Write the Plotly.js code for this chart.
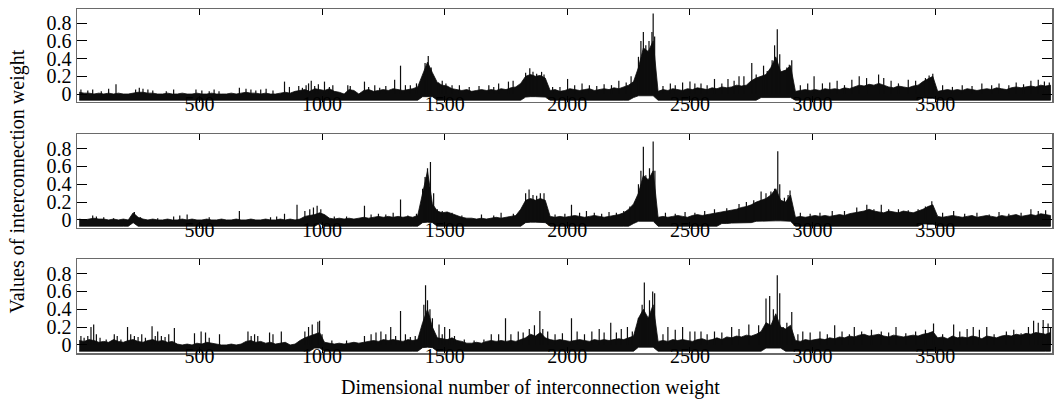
<!DOCTYPE html>
<html><head><meta charset="utf-8">
<script src="https://cdn.plot.ly/plotly-3.0.1.min.js"></script>
<style>html,body{margin:0;padding:0;background:#fff;}#chart{width:1055px;height:405px;}</style>
</head><body><div id="chart"></div>
<script>
// ---- data ----
const binWidth = 20; // each value covers 20 weight indices
const xTickValues = [500,1000,1500,2000,2500,3000,3500];
const yTickValues = [0,0.2,0.4,0.6,0.8];
const yTickLabels = ['0','0.2','0.4','0.6','0.8'];
const xTitle = 'Dimensional number of interconnection weight';
const yTitle = 'Values of interconnection weight';

// panel 1: upper edge of the dense trace per bin
const p1Top = [0.02,0.01,0.01,0.00,0.01,0.00,0.01,0.00,0.01,0.00,
0.00,0.01,0.02,0.02,0.01,0.01,0.00,0.00,0.01,0.00,
0.00,0.01,0.00,0.00,0.01,0.00,0.00,0.01,0.00,0.00,
0.00,0.01,0.00,0.01,0.02,0.01,0.01,0.00,0.01,0.00,
0.00,0.01,0.02,0.01,0.03,0.04,0.05,0.03,0.06,0.05,
0.04,0.06,0.03,0.02,0.00,0.05,0.04,0.00,0.04,0.05,
0.03,0.04,0.05,0.04,0.06,0.05,0.04,0.05,0.06,0.08,
0.22,0.36,0.24,0.13,0.10,0.09,0.06,0.05,0.04,0.05,
0.03,0.04,0.05,0.04,0.05,0.04,0.06,0.05,0.07,0.08,
0.12,0.20,0.22,0.20,0.21,0.18,0.04,0.05,0.03,0.04,
0.06,0.05,0.04,0.05,0.06,0.04,0.05,0.06,0.05,0.07,
0.06,0.08,0.10,0.14,0.30,0.52,0.48,0.60,0.03,0.05,
0.04,0.06,0.05,0.04,0.06,0.05,0.07,0.06,0.05,0.07,
0.06,0.08,0.07,0.08,0.10,0.09,0.10,0.15,0.18,0.20,
0.22,0.30,0.42,0.25,0.27,0.32,0.03,0.04,0.05,0.04,
0.05,0.04,0.06,0.05,0.06,0.05,0.07,0.06,0.08,0.10,
0.09,0.11,0.10,0.12,0.10,0.08,0.07,0.09,0.08,0.07,
0.09,0.10,0.14,0.17,0.20,0.03,0.04,0.05,0.04,0.05,
0.04,0.06,0.05,0.04,0.05,0.06,0.05,0.07,0.06,0.05,
0.07,0.08,0.07,0.08,0.09,0.08,0.10,0.09,0.10];
// panel 1: lower edge of the dense trace per bin
const p1Low = [-.07,-.07,-.07,-.07,-.07,-.07,-.07,-.07,-.07,-.07,
-.07,-.07,-.07,-.07,-.07,-.07,-.07,-.07,-.07,-.07,
-.07,-.07,-.07,-.07,-.07,-.07,-.07,-.07,-.07,-.07,
-.07,-.07,-.07,-.07,-.07,-.07,-.07,-.07,-.07,-.07,
-.07,-.07,-.07,-.07,-.07,-.07,-.07,-.07,-.07,-.07,
-.07,-.07,-.07,-.07,-.07,-.07,-.07,-.07,-.07,-.07,
-.07,-.07,-.07,-.07,-.07,-.07,-.07,-.07,-.07,-.07,
-.03,-.03,-.03,-.07,-.07,-.07,-.07,-.07,-.07,-.07,
-.07,-.07,-.07,-.07,-.07,-.07,-.07,-.07,-.07,-.07,
-.07,-.035,-.03,-.03,-.03,-.035,-.07,-.07,-.07,-.07,
-.07,-.07,-.07,-.07,-.07,-.07,-.07,-.07,-.07,-.07,
-.07,-.07,-.07,-.04,-.02,-.02,-.02,-.02,-.07,-.07,
-.07,-.07,-.07,-.07,-.07,-.07,-.07,-.07,-.07,-.07,
-.07,-.07,-.07,-.07,-.07,-.07,-.07,-.07,-.07,-.04,
-.04,-.04,-.04,-.04,-.04,-.04,-.07,-.07,-.07,-.07,
-.07,-.07,-.07,-.07,-.07,-.07,-.07,-.07,-.07,-.07,
-.07,-.07,-.07,-.07,-.07,-.07,-.07,-.07,-.07,-.07,
-.07,-.07,-.045,-.045,-.045,-.07,-.07,-.07,-.07,-.07,
-.07,-.07,-.07,-.07,-.07,-.07,-.07,-.07,-.07,-.07,
-.07,-.07,-.07,-.07,-.07,-.07,-.07,-.07,-.07];
// panel 1: isolated spikes (index, value)
const p1SpikeX = [17,45,65,100,130,160,240,255,270,290,310,365,395,486,510,540,560,580,663,690,710,730,750,772,800,847,867,905,920,935,945,956,970,985,1010,1030,1044,1105,1115,
1173,1190,1215,1235,1260,1296,1320,1340,1360,1385,1420,1433,1445,1475,1490,1505,1530,1560,1600,1640,1680,1700,1720,1760,1779,
1830,1847,1860,1875,1895,1905,1940,1970,2001,2030,2060,2090,2120,2150,2180,2210,2240,2260,
2290,2300,2310,2320,2333,2345,2350,2356,2390,2420,2440,2470,2500,2520,2545,2570,2600,2630,2655,2680,2700,2720,
2752,2770,2800,2815,2835,2845,2856,2866,2895,2905,2915,2950,2980,3006,3040,3070,3100,3130,3160,3190,3220,3269,3290,3320,3350,3390,3420,3460,3475,3490,
3530,3570,3610,3650,3690,3730,3760,3800,3830,3860,3890,3920,3945,3965];
const p1SpikeY = [0.05,0.04,0.05,0.03,0.06,0.11,0.05,0.07,0.06,0.05,0.04,0.03,0.05,0.05,0.04,0.03,0.05,0.03,0.07,0.06,0.05,0.04,0.05,0.06,0.04,0.14,0.08,0.09,0.07,0.10,0.12,0.15,0.09,0.11,0.14,0.08,0.10,0.10,0.09,
0.14,0.08,0.10,0.07,0.09,0.16,0.32,0.10,0.10,0.12,0.35,0.43,0.30,0.13,0.15,0.12,0.10,0.10,0.08,0.09,0.10,0.08,0.12,0.14,0.15,
0.24,0.29,0.25,0.23,0.25,0.22,0.08,0.08,0.17,0.10,0.12,0.10,0.09,0.11,0.10,0.15,0.13,0.20,
0.42,0.60,0.70,0.55,0.60,0.70,0.91,0.65,0.09,0.12,0.10,0.13,0.14,0.12,0.12,0.10,0.17,0.12,0.17,0.15,0.20,0.20,
0.35,0.22,0.32,0.26,0.38,0.55,0.73,0.45,0.30,0.33,0.38,0.10,0.12,0.20,0.12,0.13,0.15,0.10,0.16,0.20,0.18,0.22,0.18,0.15,0.12,0.16,0.15,0.18,0.21,0.23,
0.10,0.08,0.10,0.09,0.12,0.10,0.12,0.10,0.13,0.11,0.15,0.16,0.14,0.13];

// panel 2
const p2Top = [0.01,0.00,0.01,0.02,0.01,0.01,0.00,0.01,0.00,0.01,
0.00,0.08,0.03,0.01,0.00,0.01,0.00,0.00,0.01,0.00,
0.00,0.01,0.00,0.01,0.00,0.00,0.01,0.00,0.00,0.01,
0.00,0.00,0.01,0.00,0.00,0.01,0.00,0.00,0.01,0.00,
0.00,0.01,0.00,0.01,0.00,0.01,0.04,0.05,0.06,0.08,
0.06,0.02,0.01,0.02,0.01,0.02,0.01,0.02,0.03,0.02,
0.03,0.04,0.03,0.04,0.03,0.04,0.03,0.04,0.03,0.05,
0.30,0.55,0.18,0.10,0.08,0.09,0.07,0.05,0.03,0.02,
0.02,0.01,0.02,0.01,0.02,0.03,0.02,0.03,0.04,0.05,
0.12,0.22,0.24,0.22,0.24,0.22,0.04,0.03,0.04,0.03,
0.04,0.05,0.04,0.03,0.04,0.05,0.04,0.03,0.04,0.05,
0.06,0.08,0.12,0.18,0.30,0.50,0.45,0.55,0.03,0.04,
0.03,0.04,0.05,0.04,0.03,0.05,0.06,0.05,0.06,0.07,
0.08,0.09,0.10,0.11,0.12,0.14,0.15,0.17,0.20,0.22,
0.24,0.28,0.35,0.22,0.20,0.28,0.03,0.04,0.03,0.04,
0.05,0.04,0.05,0.04,0.05,0.06,0.05,0.07,0.08,0.09,
0.10,0.12,0.10,0.09,0.08,0.10,0.09,0.08,0.10,0.09,
0.08,0.10,0.12,0.15,0.17,0.04,0.03,0.04,0.05,0.04,
0.03,0.04,0.05,0.03,0.04,0.05,0.04,0.03,0.05,0.04,
0.05,0.06,0.04,0.05,0.06,0.05,0.07,0.06,0.05];
const p2Low = [-.07,-.07,-.07,-.07,-.07,-.07,-.07,-.07,-.07,-.07,
-.07,-.03,-.07,-.07,-.07,-.07,-.07,-.07,-.07,-.07,
-.07,-.07,-.07,-.07,-.07,-.07,-.07,-.07,-.07,-.07,
-.07,-.07,-.07,-.07,-.07,-.07,-.07,-.07,-.07,-.07,
-.07,-.07,-.07,-.07,-.07,-.07,-.07,-.07,-.07,-.04,
-.07,-.07,-.07,-.07,-.07,-.07,-.07,-.07,-.07,-.07,
-.07,-.07,-.07,-.07,-.07,-.07,-.07,-.07,-.07,-.07,
-.03,-.025,-.03,-.07,-.07,-.07,-.07,-.07,-.07,-.07,
-.07,-.07,-.07,-.07,-.07,-.07,-.07,-.07,-.07,-.07,
-.07,-.03,-.025,-.025,-.025,-.03,-.07,-.07,-.07,-.07,
-.07,-.07,-.07,-.07,-.07,-.07,-.07,-.07,-.07,-.07,
-.07,-.07,-.07,-.04,-.015,-.015,-.015,-.015,-.07,-.07,
-.07,-.07,-.07,-.07,-.07,-.07,-.07,-.07,-.07,-.07,
-.07,-.04,-.04,-.035,-.035,-.03,-.03,-.03,-.015,-.01,
-.01,-.01,-.01,-.01,-.01,-.015,-.07,-.07,-.07,-.07,
-.07,-.07,-.07,-.07,-.07,-.07,-.07,-.07,-.07,-.07,
-.07,-.07,-.07,-.07,-.07,-.07,-.07,-.07,-.07,-.07,
-.07,-.07,-.045,-.045,-.045,-.07,-.07,-.07,-.07,-.07,
-.07,-.07,-.07,-.07,-.07,-.07,-.07,-.07,-.07,-.07,
-.07,-.07,-.07,-.07,-.07,-.07,-.07,-.07,-.07];
const p2SpikeX = [65,80,110,150,235,260,330,395,420,450,540,663,790,815,847,898,930,950,965,980,995,1050,1100,1173,1200,1230,1260,1290,1320,1350,1385,
1410,1420,1430,1442,1455,1470,1490,1510,1530,1570,1650,1700,1730,1780,
1830,1844,1860,1875,1890,1905,1950,1990,2017,2050,2078,2110,2140,2170,2200,2230,2255,2275,2290,2300,2310,2320,2335,2350,2357,
2400,2440,2480,2520,2560,2600,2650,2700,2730,2760,2790,2810,2830,2845,2858,2866,2885,2900,2908,
2950,2990,3030,3080,3130,3180,3221,3250,3280,3310,3350,3390,3430,3460,3486,
3530,3575,3620,3670,3720,3760,3800,3850,3890,3920,3950];
const p2SpikeY = [0.05,0.04,0.03,0.02,0.09,0.03,0.02,0.04,0.05,0.06,0.03,0.10,0.03,0.04,0.07,0.17,0.10,0.12,0.14,0.16,0.12,0.04,0.04,0.16,0.06,0.07,0.06,0.08,0.23,0.05,0.07,
0.35,0.48,0.58,0.65,0.30,0.12,0.10,0.09,0.08,0.05,0.06,0.05,0.08,0.07,
0.30,0.34,0.28,0.27,0.30,0.30,0.06,0.07,0.17,0.08,0.10,0.08,0.07,0.09,0.08,0.10,0.15,0.20,0.40,0.55,0.82,0.50,0.58,0.88,0.55,
0.08,0.07,0.09,0.08,0.10,0.12,0.13,0.18,0.20,0.22,0.32,0.30,0.32,0.35,0.77,0.40,0.25,0.28,0.33,
0.08,0.07,0.08,0.10,0.10,0.14,0.17,0.12,0.17,0.12,0.12,0.11,0.12,0.15,0.21,
0.08,0.10,0.07,0.08,0.06,0.09,0.07,0.08,0.12,0.10,0.11];

// panel 3
const p3Top = [0.05,0.04,0.06,0.05,0.03,0.04,0.03,0.06,0.04,0.03,
0.05,0.06,0.04,0.03,0.05,0.06,0.04,0.05,0.03,0.04,
0.01,0.00,0.01,0.00,0.02,0.01,0.03,0.02,0.01,0.00,
0.00,0.01,0.00,0.01,0.04,0.05,0.03,0.04,0.02,0.03,
0.01,0.02,0.03,0.00,0.01,0.05,0.08,0.10,0.12,0.14,
0.03,0.02,0.01,0.02,0.01,0.02,0.03,0.02,0.03,0.04,
0.05,0.04,0.06,0.05,0.06,0.05,0.04,0.06,0.05,0.06,
0.25,0.40,0.20,0.08,0.07,0.06,0.08,0.05,0.04,0.02,
0.02,0.03,0.02,0.04,0.05,0.04,0.05,0.04,0.05,0.04,
0.06,0.08,0.12,0.10,0.14,0.08,0.06,0.05,0.06,0.05,
0.04,0.05,0.06,0.05,0.04,0.06,0.05,0.06,0.05,0.06,
0.07,0.06,0.08,0.10,0.30,0.40,0.30,0.45,0.04,0.05,
0.04,0.06,0.05,0.06,0.05,0.04,0.06,0.07,0.05,0.06,
0.08,0.06,0.09,0.08,0.10,0.09,0.11,0.10,0.12,0.15,
0.25,0.22,0.35,0.20,0.18,0.22,0.05,0.04,0.06,0.05,
0.06,0.07,0.06,0.08,0.07,0.09,0.08,0.10,0.09,0.11,
0.12,0.10,0.11,0.12,0.10,0.09,0.11,0.10,0.09,0.10,
0.11,0.10,0.12,0.13,0.15,0.08,0.09,0.07,0.10,0.08,
0.09,0.08,0.10,0.09,0.07,0.10,0.09,0.08,0.10,0.11,
0.10,0.12,0.11,0.13,0.12,0.14,0.13,0.12,0.14];
const p3Low = [-.07,-.07,-.07,-.07,-.07,-.07,-.07,-.07,-.07,-.07,
-.07,-.07,-.07,-.07,-.07,-.07,-.07,-.07,-.07,-.07,
-.07,-.07,-.07,-.07,-.07,-.07,-.07,-.07,-.07,-.07,
-.07,-.07,-.07,-.07,-.07,-.07,-.07,-.07,-.07,-.07,
-.07,-.07,-.07,-.07,-.07,-.07,-.07,-.07,-.035,-.035,
-.07,-.07,-.07,-.07,-.07,-.07,-.07,-.07,-.07,-.07,
-.07,-.07,-.07,-.07,-.07,-.07,-.07,-.07,-.07,-.07,
-.03,-.025,-.03,-.07,-.07,-.07,-.07,-.07,-.07,-.07,
-.07,-.07,-.07,-.07,-.07,-.07,-.07,-.07,-.07,-.07,
-.07,-.07,-.07,-.07,-.07,-.07,-.07,-.07,-.07,-.07,
-.07,-.07,-.07,-.07,-.07,-.07,-.07,-.07,-.07,-.07,
-.07,-.07,-.07,-.07,-.025,-.025,-.025,-.025,-.07,-.07,
-.07,-.07,-.07,-.07,-.07,-.07,-.07,-.07,-.07,-.07,
-.07,-.07,-.07,-.07,-.07,-.07,-.07,-.07,-.07,-.07,
-.035,-.035,-.035,-.035,-.07,-.07,-.07,-.07,-.07,-.07,
-.07,-.07,-.07,-.07,-.07,-.07,-.07,-.07,-.07,-.07,
-.07,-.07,-.07,-.07,-.07,-.07,-.07,-.07,-.07,-.07,
-.07,-.07,-.07,-.07,-.07,-.07,-.07,-.07,-.07,-.07,
-.07,-.07,-.07,-.07,-.07,-.07,-.07,-.07,-.07,-.07,
-.07,-.07,-.07,-.07,-.07,-.07,-.07,-.07,-.07];
const p3SpikeX = [17,30,45,58,69,80,95,120,153,165,180,207,220,235,250,265,280,307,320,330,345,360,375,398,480,507,525,540,582,698,711,725,738,786,800,834,
930,945,960,983,990,1000,1040,1100,1173,1200,1220,1240,1260,1280,1300,1320,1340,1360,1380,
1405,1415,1422,1430,1440,1450,1477,1490,1500,1520,1540,1580,1620,1660,1690,1720,1748,1770,1800,1820,1845,1866,1888,1900,1920,1950,1980,2017,2040,2070,2100,2130,2150,2177,2200,2220,2245,2265,
2290,2305,2314,2322,2335,2348,2356,
2390,2410,2440,2470,2500,2520,2545,2570,2600,2630,2670,2700,2740,2780,2810,2825,2840,2856,2866,2880,2895,2915,
2940,2960,2990,3030,3060,3090,3120,3150,3170,3200,3240,3280,3310,3340,3380,3420,3460,3493,
3530,3575,3600,3630,3655,3680,3710,3740,3790,3820,3850,3880,3901,3920,3940,3960,3970];
const p3SpikeY = [0.10,0.08,0.10,0.20,0.23,0.12,0.08,0.06,0.12,0.10,0.06,0.20,0.12,0.10,0.09,0.12,0.08,0.21,0.10,0.15,0.10,0.09,0.12,0.19,0.13,0.15,0.14,0.08,0.12,0.15,0.10,0.12,0.10,0.14,0.12,0.15,
0.15,0.20,0.23,0.26,0.27,0.12,0.05,0.05,0.10,0.12,0.14,0.15,0.12,0.20,0.10,0.38,0.12,0.09,0.10,
0.15,0.45,0.67,0.50,0.40,0.30,0.23,0.12,0.20,0.18,0.10,0.06,0.05,0.06,0.12,0.12,0.30,0.12,0.15,0.14,0.18,0.22,0.38,0.18,0.15,0.12,0.13,0.30,0.15,0.12,0.15,0.18,0.14,0.25,0.14,0.18,0.20,0.15,
0.30,0.45,0.70,0.30,0.50,0.60,0.58,
0.12,0.20,0.17,0.20,0.15,0.15,0.15,0.12,0.15,0.14,0.20,0.18,0.23,0.22,0.52,0.55,0.40,0.78,0.58,0.20,0.25,0.37,
0.12,0.15,0.14,0.15,0.12,0.22,0.15,0.12,0.20,0.15,0.17,0.15,0.14,0.20,0.13,0.15,0.17,0.24,
0.12,0.23,0.15,0.18,0.20,0.17,0.20,0.12,0.15,0.17,0.13,0.20,0.27,0.25,0.28,0.24,0.20];

// ---- drawing ----
const panels = [
  {top:p1Top, low:p1Low, sx:p1SpikeX, sy:p1SpikeY, ax:''},
  {top:p2Top, low:p2Low, sx:p2SpikeX, sy:p2SpikeY, ax:'2'},
  {top:p3Top, low:p3Low, sx:p3SpikeX, sy:p3SpikeY, ax:'3'}
];
const ink = '#0d0d0d';
const traces = [];
panels.forEach(p => {
  const centers = p.top.map((_, i) => i * binWidth + binWidth / 2);
  // dense band: closed outline along the upper values, back along the lower values
  traces.push({
    type:'scatter', mode:'lines', fill:'toself', fillcolor:ink,
    x:centers.concat(centers.slice().reverse()),
    y:p.top.concat(p.low.slice().reverse()),
    line:{color:ink, width:0.8},
    xaxis:'x' + p.ax, yaxis:'y' + p.ax, hoverinfo:'skip', showlegend:false
  });
  const lx = [], ly = [];
  p.sx.forEach((x, i) => { lx.push(x, x, null); ly.push(0, p.sy[i], null); });
  traces.push({
    type:'scatter', mode:'lines', x:lx, y:ly, line:{color:ink, width:1.2},
    xaxis:'x' + p.ax, yaxis:'y' + p.ax, hoverinfo:'skip', showlegend:false
  });
});

const font = {family:'Liberation Serif, Times New Roman, serif', size:20, color:'#000'};
const frame = '#6a6a6a';
function xAxis(anchor) {
  return {anchor:anchor, range:[1,3976], tickvals:xTickValues, ticks:'inside', ticklen:6,
    tickcolor:'#000', tickwidth:1, showline:true, linecolor:frame, linewidth:1.5, mirror:'ticks',
    showgrid:false, zeroline:false, tickfont:font, ticklabelstandoff:-16};
}
function yAxis(anchor, domain) {
  return {anchor:anchor, domain:domain, range:[-0.09,0.96], tickvals:yTickValues, ticktext:yTickLabels,
    ticks:'inside', ticklen:10, tickcolor:'#000', tickwidth:1, showline:true, linecolor:frame,
    linewidth:1.5, mirror:'ticks', showgrid:false, zeroline:false, tickfont:font};
}
const layout = {
  width:1055, height:405, margin:{l:77, r:3, t:9, b:52},
  paper_bgcolor:'#fff', plot_bgcolor:'#fff',
  showlegend:false, font:font,
  xaxis:xAxis('y'), xaxis2:xAxis('y2'), xaxis3:xAxis('y3'),
  yaxis:yAxis('x',[0.7297,1]), yaxis2:yAxis('x2',[0.3634,0.6358]), yaxis3:yAxis('x3',[0,0.2724]),
  annotations:[
    {text:xTitle, xref:'paper', yref:'paper', x:0.4651, y:-0.1017, xanchor:'center', yanchor:'middle',
     showarrow:false, font:font},
    {text:yTitle, xref:'paper', yref:'paper', x:-0.061, y:0.497, xanchor:'center', yanchor:'middle',
     textangle:-90, showarrow:false, font:font}
  ]
};
Plotly.newPlot('chart', traces, layout, {displayModeBar:false, staticPlot:true});
</script>
</body></html>
